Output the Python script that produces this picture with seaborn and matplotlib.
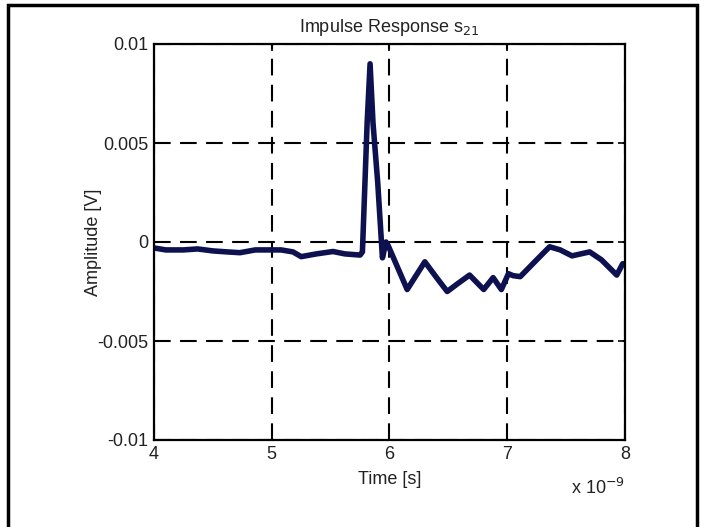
import numpy as np
import pandas as pd
import matplotlib
matplotlib.use("Agg")
import matplotlib.pyplot as plt
import seaborn as sns
from matplotlib.ticker import FuncFormatter
from matplotlib.patches import Rectangle

# data (time in ns, amplitude in V)
time_ns = [4.00, 4.10, 4.25, 4.37, 4.50, 4.62, 4.73, 4.86, 5.00, 5.08, 5.18, 5.25,
           5.38, 5.52, 5.62, 5.75, 5.77, 5.81, 5.835, 5.86, 5.90, 5.94, 5.97, 5.99,
           6.07, 6.15, 6.30, 6.40, 6.49, 6.58, 6.68, 6.80, 6.88, 6.95, 7.01, 7.05,
           7.11, 7.25, 7.36, 7.45, 7.55, 7.70, 7.80, 7.93, 7.98, 8.00]
amplitude = [-0.0003, -0.0004, -0.0004, -0.00035, -0.00045, -0.0005, -0.00054, -0.0004,
             -0.0004, -0.0004, -0.0005, -0.00074, -0.0006, -0.00048, -0.0006, -0.00066,
             -0.0005, 0.0060, 0.0090, 0.0060, 0.0030, -0.0008, 0.0000, -0.0002,
             -0.0013, -0.0024, -0.0010, -0.0018, -0.0025, -0.0021, -0.00167, -0.0024,
             -0.0018, -0.0024, -0.0016, -0.0017, -0.00175, -0.0009, -0.00024, -0.0004,
             -0.0007, -0.0005, -0.0009, -0.00167, -0.0011, -0.0011]
x_ticks = [4, 5, 6, 7, 8]
y_ticks = [-0.01, -0.005, 0, 0.005, 0.01]
y_tick_labels = ["-0.01", "-0.005", "0", "0.005", "0.01"]

df = pd.DataFrame({"t": np.array(time_ns) * 1e-9, "a": amplitude})

sns.set_theme(style="white")
plt.rcParams['font.family'] = ['Liberation Sans', 'DejaVu Sans']

fig = plt.figure(figsize=(7.06, 5.27), dpi=100)
fig.patches.append(Rectangle((8 / 706, -0.01), 689 / 706, 1 - 5 / 527 + 0.01,
                             transform=fig.transFigure, fill=False,
                             edgecolor="black", linewidth=2.5, zorder=0))
ax = fig.add_axes([154 / 706, 1 - 440 / 527, 471 / 706, 396 / 527])

sns.lineplot(data=df, x="t", y="a", ax=ax, color="#0d1150", linewidth=4.0,
             sort=False, estimator=None, zorder=3)

ax.set_xlim(4e-9, 8e-9)
ax.set_ylim(-0.01, 0.01)
ax.set_xticks([v * 1e-9 for v in x_ticks])
ax.xaxis.set_major_formatter(FuncFormatter(lambda v, p: f"{v * 1e9:g}"))
ax.set_yticks(y_ticks)
ax.set_yticklabels(y_tick_labels)

ax.grid(True, color="black", linestyle=(0, (8, 4.5)), linewidth=1.5)
for s in ax.spines.values():
    s.set_color("black")
    s.set_linewidth(1.6)
    s.set_zorder(4)
ax.tick_params(direction="in", length=5, width=1.2, color="black",
               top=True, right=True, bottom=True, left=True,
               labelsize=13, labelcolor="#222222", pad=4)

ax.set_title("Impulse Response s$_{21}$", fontsize=13, color="#222222", pad=9)
ax.set_xlabel("Time [s]", fontsize=13, color="#222222", labelpad=6)
ax.set_ylabel("Amplitude [V]", fontsize=13, color="#222222")
ax.yaxis.set_label_coords(-0.11, 0.5)
ax.text(1.0, -0.095, "x 10$^{-9}$", transform=ax.transAxes, ha="right", va="top",
        fontsize=13, color="#222222")

fig.savefig("out.png", dpi=100)
